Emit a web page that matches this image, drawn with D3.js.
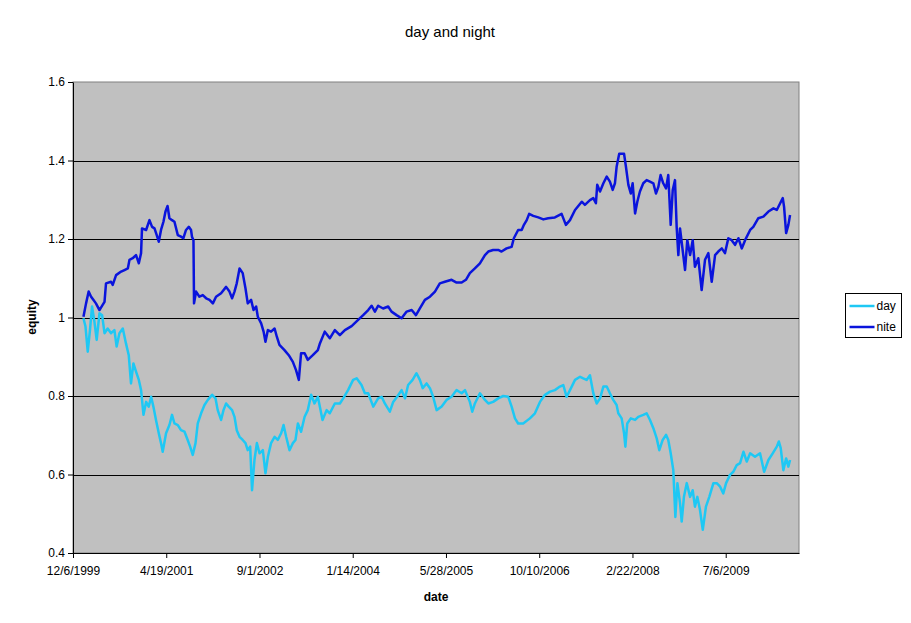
<!DOCTYPE html>
<html>
<head>
<meta charset="utf-8">
<script src="https://cdn.jsdelivr.net/npm/d3@7"></script>
<style>
  body { margin: 0; background: #fff; }
  text { font-family: Arial, "Liberation Sans", sans-serif; }
</style>
</head>
<body>
<div id="chart"></div>
<script>
// days since 12/6/1999, equity values
const dayDays = [56,67,79,91,102,115,127,142,156,169,186,204,222,234,249,267,284,299,311,324,338,353,365,378,392,406,419,431,445,460,472,481,499,517,531,544,562,579,598,615,628,642,657,669,687,705,723,746,764,776,794,807,821,835,853,866,878,893,910,925,937,950,960,973,986,1000,1018,1032,1045,1062,1081,1098,1116,1129,1143,1161,1179,1193,1206,1223,1242,1259,1277,1295,1313,1338,1360,1377,1404,1431,1449,1475,1502,1521,1547,1565,1583,1610,1636,1655,1672,1699,1717,1738,1762,1780,1797,1821,1842,1860,1875,1896,1914,1931,1950,1977,2003,2030,2057,2084,2102,2128,2141,2155,2182,2209,2227,2253,2280,2307,2334,2352,2370,2387,2414,2450,2477,2504,2531,2558,2584,2611,2629,2647,2665,2692,2719,2736,2754,2772,2790,2808,2826,2844,2862,2879,2897,2915,2924,2942,2955,2962,2972,2991,3014,3031,3058,3076,3094,3112,3130,3144,3162,3180,3192,3205,3219,3230,3241,3255,3264,3276,3291,3309,3323,3335,3348,3362,3377,3394,3412,3434,3452,3470,3487,3502,3523,3541,3559,3577,3595,3613,3631,3657,3684,3706,3729,3752,3774,3785,3795,3809,3824,3836,3845];
const dayValues = [0.998,0.977,0.913,0.968,1.028,0.989,0.943,1.011,1.006,0.960,0.972,0.960,0.968,0.926,0.960,0.972,0.934,0.904,0.832,0.883,0.862,0.841,0.815,0.752,0.785,0.773,0.798,0.773,0.739,0.705,0.680,0.658,0.705,0.726,0.752,0.730,0.726,0.713,0.709,0.688,0.671,0.650,0.680,0.730,0.756,0.777,0.790,0.803,0.794,0.764,0.739,0.764,0.781,0.773,0.764,0.747,0.713,0.696,0.688,0.680,0.662,0.671,0.560,0.637,0.680,0.654,0.662,0.603,0.645,0.680,0.696,0.688,0.705,0.726,0.696,0.662,0.680,0.688,0.730,0.709,0.747,0.764,0.803,0.781,0.798,0.739,0.764,0.756,0.781,0.781,0.794,0.815,0.841,0.845,0.828,0.807,0.807,0.773,0.794,0.798,0.781,0.760,0.785,0.798,0.815,0.794,0.828,0.841,0.858,0.841,0.820,0.832,0.820,0.798,0.764,0.773,0.790,0.798,0.815,0.807,0.815,0.785,0.760,0.781,0.807,0.790,0.781,0.785,0.794,0.800,0.798,0.773,0.743,0.730,0.730,0.743,0.756,0.785,0.803,0.811,0.815,0.824,0.828,0.798,0.815,0.841,0.849,0.845,0.841,0.853,0.807,0.781,0.794,0.824,0.824,0.807,0.790,0.777,0.756,0.743,0.705,0.671,0.730,0.743,0.739,0.747,0.752,0.756,0.739,0.718,0.692,0.662,0.688,0.701,0.688,0.654,0.611,0.492,0.578,0.527,0.480,0.543,0.578,0.543,0.560,0.518,0.543,0.510,0.459,0.518,0.543,0.578,0.578,0.569,0.552,0.578,0.599,0.607,0.624,0.629,0.658,0.633,0.654,0.645,0.654,0.607,0.637,0.654,0.671,0.684,0.667,0.611,0.641,0.620,0.637];

const niteDays = [56,70,84,97,109,123,142,159,169,177,204,213,231,258,276,294,303,320,338,353,365,370,392,410,424,437,449,460,472,485,496,507,517,531,544,562,579,592,606,621,633,638,646,649,660,678,696,714,732,750,767,794,821,839,853,866,878,893,910,925,937,955,968,982,991,1009,1022,1032,1045,1062,1081,1093,1107,1134,1157,1179,1196,1211,1223,1242,1259,1286,1313,1324,1350,1377,1404,1431,1458,1494,1529,1556,1583,1601,1619,1636,1663,1690,1708,1735,1762,1789,1816,1839,1860,1887,1914,1941,1967,1994,2030,2057,2084,2107,2128,2155,2182,2209,2227,2253,2280,2298,2325,2352,2364,2387,2406,2418,2433,2446,2468,2495,2522,2548,2584,2620,2643,2665,2692,2728,2745,2772,2790,2804,2811,2826,2844,2862,2879,2894,2906,2915,2929,2955,2965,2978,2991,3001,3014,3026,3040,3058,3076,3094,3112,3126,3139,3151,3165,3180,3192,3205,3216,3228,3237,3246,3255,3269,3282,3294,3309,3323,3335,3353,3371,3389,3407,3425,3443,3460,3479,3496,3514,3532,3550,3568,3586,3604,3631,3648,3675,3702,3729,3756,3774,3792,3806,3813,3824,3836,3845];
const niteValues = [1.002,1.036,1.066,1.053,1.045,1.036,1.019,1.032,1.040,1.087,1.091,1.083,1.108,1.117,1.121,1.125,1.147,1.151,1.159,1.138,1.164,1.227,1.223,1.248,1.231,1.227,1.210,1.193,1.223,1.244,1.270,1.284,1.253,1.248,1.244,1.210,1.206,1.202,1.223,1.231,1.223,1.206,1.197,1.036,1.066,1.053,1.057,1.049,1.045,1.036,1.053,1.062,1.078,1.066,1.049,1.066,1.087,1.125,1.113,1.074,1.036,1.045,1.019,1.028,1.002,0.985,0.964,0.938,0.968,0.964,0.972,0.951,0.930,0.917,0.904,0.887,0.866,0.841,0.909,0.909,0.892,0.904,0.917,0.934,0.964,0.947,0.968,0.955,0.968,0.978,0.994,1.006,1.019,1.030,1.015,1.030,1.023,1.028,1.015,1.006,0.998,1.015,1.019,1.006,1.023,1.045,1.053,1.066,1.087,1.091,1.096,1.089,1.089,1.096,1.113,1.125,1.138,1.159,1.168,1.172,1.172,1.168,1.176,1.180,1.202,1.223,1.223,1.236,1.248,1.264,1.259,1.255,1.250,1.253,1.255,1.264,1.236,1.248,1.274,1.295,1.287,1.299,1.304,1.291,1.338,1.321,1.342,1.359,1.346,1.325,1.342,1.384,1.417,1.417,1.384,1.338,1.316,1.342,1.265,1.295,1.321,1.342,1.350,1.346,1.342,1.316,1.333,1.363,1.342,1.329,1.363,1.236,1.325,1.350,1.231,1.159,1.227,1.172,1.121,1.197,1.159,1.197,1.129,1.151,1.070,1.147,1.164,1.091,1.159,1.168,1.176,1.164,1.202,1.197,1.185,1.202,1.176,1.197,1.223,1.231,1.253,1.257,1.270,1.278,1.274,1.291,1.304,1.282,1.215,1.236,1.261];

const tickDays = [0, 500, 1000, 1500, 2000, 2500, 3000, 3500];
const tickLabels = ["12/6/1999", "4/19/2001", "9/1/2002", "1/14/2004", "5/28/2005", "10/10/2006", "2/22/2008", "7/6/2009"];
const yTicks = [0.4, 0.6, 0.8, 1, 1.2, 1.4, 1.6];
const seriesNames = ["day", "nite"];
const seriesColors = ["#1ec8f4", "#0a14dc"];

const startDate = new Date(1999, 11, 6);
const toDate = d => d3.timeDay.offset(startDate, d);

const series = [
  { name: seriesNames[0], color: seriesColors[0], points: dayDays.map((d, i) => ({ date: toDate(d), value: dayValues[i] })) },
  { name: seriesNames[1], color: seriesColors[1], points: niteDays.map((d, i) => ({ date: toDate(d), value: niteValues[i] })) }
];

const margin = { top: 82, right: 112, bottom: 70, left: 73 };
const width = 911 - margin.left - margin.right;
const height = 623 - margin.top - margin.bottom;

const root = d3.select("#chart")
  .append("svg")
  .attr("width", 911)
  .attr("height", 623);

const svg = root.append("g")
  .attr("transform", `translate(${margin.left},${margin.top})`);

const x = d3.scaleTime()
  .domain([startDate, toDate(3893)])
  .range([0, width]);

const y = d3.scaleLinear()
  .domain([0.4, 1.6])
  .range([height, 0]);

// plot area
svg.append("rect")
  .attr("width", width)
  .attr("height", height)
  .attr("fill", "#c0c0c0")
  .attr("stroke", "#808080");

// gridlines
svg.selectAll(".grid")
  .data(yTicks.slice(1, -1))
  .enter()
  .append("line")
  .attr("x1", 0)
  .attr("x2", width)
  .attr("y1", d => Math.round(y(d)) + 0.5)
  .attr("y2", d => Math.round(y(d)) + 0.5)
  .attr("stroke", "#000");

const line = d3.line()
  .x(d => x(d.date))
  .y(d => y(d.value));

svg.selectAll(".series")
  .data(series)
  .enter()
  .append("path")
  .attr("fill", "none")
  .attr("stroke", d => d.color)
  .attr("stroke-width", 2.5)
  .attr("stroke-linejoin", "round")
  .attr("d", d => line(d.points));

// axes
const xAxis = svg.append("g")
  .attr("transform", `translate(0,${height})`)
  .call(d3.axisBottom(x)
    .tickValues(tickDays.map(toDate))
    .tickFormat((d, i) => tickLabels[i])
    .tickSize(5)
    .tickSizeOuter(0));

const yAxis = svg.append("g")
  .call(d3.axisLeft(y)
    .tickValues(yTicks)
    .tickFormat(d3.format("~g"))
    .tickSize(5)
    .tickSizeOuter(0));

[xAxis, yAxis].forEach(a => {
  a.selectAll("path, line").attr("stroke", "#000");
  a.selectAll("text")
    .attr("fill", "#000")
    .style("font-size", "12px")
    .style("font-family", "Arial, 'Liberation Sans', sans-serif");
});
xAxis.selectAll("text").attr("dy", "1.2em");
yAxis.selectAll("text").attr("x", -8);

// titles
root.append("text")
  .attr("x", 450)
  .attr("y", 37)
  .attr("text-anchor", "middle")
  .style("font-size", "15px")
  .text("day and night");

root.append("text")
  .attr("x", 436)
  .attr("y", 601)
  .attr("text-anchor", "middle")
  .style("font-size", "12px")
  .style("font-weight", "bold")
  .text("date");

root.append("text")
  .attr("transform", "translate(36,317) rotate(-90)")
  .attr("text-anchor", "middle")
  .style("font-size", "12px")
  .style("font-weight", "bold")
  .text("equity");

// legend
const legend = root.append("g").attr("transform", "translate(845.5,293.5)");
legend.append("rect")
  .attr("width", 56)
  .attr("height", 44)
  .attr("fill", "#fff")
  .attr("stroke", "#000");

const item = legend.selectAll(".item")
  .data(series)
  .enter()
  .append("g")
  .attr("transform", (d, i) => `translate(0,${12.5 + i * 21})`);

item.append("line")
  .attr("x1", 4)
  .attr("x2", 29)
  .attr("stroke", d => d.color)
  .attr("stroke-width", 2.5);

item.append("text")
  .attr("x", 31)
  .attr("dy", "0.35em")
  .style("font-size", "12px")
  .text(d => d.name);
</script>
</body>
</html>
